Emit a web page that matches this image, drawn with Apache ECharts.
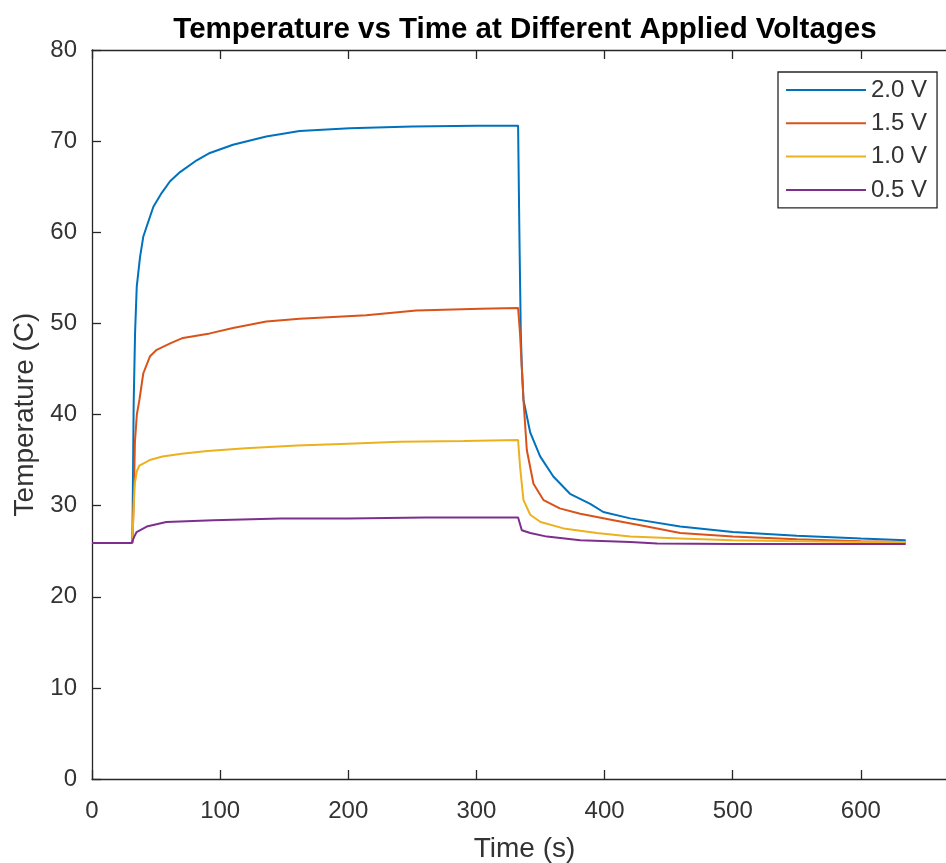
<!DOCTYPE html>
<html>
<head>
<meta charset="utf-8">
<title>Temperature vs Time</title>
<script src="https://cdn.jsdelivr.net/npm/echarts@6/dist/echarts.min.js"></script>
<style>
	html, body { margin: 0; padding: 0; background: #fff; }
	#main { width: 946px; height: 863px; }
</style>
</head>
<body>
<div id="main"></div>
<script>
// time (s) and temperature (C) per voltage
var seriesNames = ["2.0 V", "1.5 V", "1.0 V", "0.5 V"];
var seriesColors = ["#0072BD", "#D95319", "#EDB120", "#7E2F8E"];

var time20 = [0, 31.5, 32.5, 33.6, 34.9, 37.5, 40, 42.6, 47.9, 54.3, 60.9, 68.7, 81.7, 92, 110, 136, 162, 201, 250, 300, 332.5,
	333.5, 334.6, 335.4, 336.7, 342, 349.7, 360, 373, 388.8, 399, 420, 459, 500, 550, 600, 635];
var temp20 = [25.9, 25.9, 41, 48.9, 54, 57.3, 59.5, 60.6, 62.8, 64.3, 65.6, 66.6, 67.9, 68.7, 69.6, 70.5, 71.1, 71.4, 71.6, 71.7, 71.7,
	60, 49, 45.3, 41.6, 38, 35.4, 33.2, 31.3, 30.2, 29.3, 28.6, 27.7, 27.1, 26.7, 26.4, 26.2];

var time15 = [0, 31.5, 32.5, 33.5, 35, 37, 40, 45.3, 50.5, 61, 71, 92, 110, 136, 162, 214, 253, 303, 332.5,
	334, 336.7, 339.3, 344.5, 352.4, 365, 381, 407, 433, 459, 500, 550, 600, 635];
var temp15 = [25.9, 25.9, 30, 37, 40, 41.6, 44.5, 46.4, 47.1, 47.8, 48.4, 48.9, 49.5, 50.2, 50.5, 50.9, 51.4, 51.6, 51.7,
	48.9, 41.6, 36.1, 32.4, 30.6, 29.7, 29.1, 28.4, 27.7, 27.0, 26.6, 26.3, 26.1, 26.0];

var time10 = [0, 31.5, 32.5, 33.5, 35, 37, 45, 55, 70, 90, 120, 160, 200, 240, 290, 332.5,
	334, 336.7, 342, 350, 368, 394, 420, 459, 500, 550, 600, 635];
var temp10 = [25.9, 25.9, 30, 32.5, 33.8, 34.4, 35.0, 35.4, 35.7, 36.0, 36.3, 36.6, 36.8, 37.0, 37.1, 37.2,
	34.3, 30.6, 29.0, 28.2, 27.5, 27.0, 26.6, 26.4, 26.2, 26.1, 26.0, 26.0];

var time05 = [0, 31, 33, 34.8, 42.7, 58, 94.7, 146.8, 200, 260, 332.5, 335.4, 342, 355, 381, 420, 441, 500, 560, 635];
var temp05 = [25.9, 25.9, 26.6, 27.1, 27.7, 28.2, 28.4, 28.6, 28.6, 28.7, 28.7, 27.3, 27.0, 26.6, 26.2, 26.0, 25.85, 25.8, 25.8, 25.8];

var xTicks = [0, 100, 200, 300, 400, 500, 600];
var yTicks = [0, 10, 20, 30, 40, 50, 60, 70, 80];

var fontName = "Liberation Sans";
var axisColor = "#262626";
var textColor = "#333333";

function pairs(ts, vs)
{
	var re = [];
	for(var i=0; i<ts.length; i++)
		re.push([ts[i], vs[i]]);
	return re;
}

var dataList = [pairs(time20, temp20), pairs(time15, temp15), pairs(time10, temp10), pairs(time05, temp05)];

var series = [];
for(var i=0; i<seriesNames.length; i++)
{
	series.push({
		name: seriesNames[i],
		type: "line",
		data: dataList[i],
		symbol: "none",
		showSymbol: false,
		color: seriesColors[i],
		lineStyle: { width: 2, color: seriesColors[i] },
		xAxisIndex: 0,
		yAxisIndex: 0
	});
}

var chart = echarts.init(document.getElementById("main"), null, { renderer: "canvas" });

var tickStyle = { color: axisColor, width: 1.3 };

chart.setOption({
	animation: false,
	backgroundColor: "#ffffff",
	textStyle: { fontFamily: fontName },
	title: {
		text: "Temperature vs Time at Different Applied Voltages",
		left: 520,
		top: 10,
		textAlign: "center",
		textStyle: { fontFamily: fontName, fontSize: 29.5, fontWeight: "bold", color: "#000" }
	},
	// the axes box runs past the right edge of the picture (x = 675 s sits at about 957 px)
	grid: { left: 92, width: 865, top: 50, height: 729, containLabel: false, outerBoundsMode: "none" },
	legend: {
		orient: "vertical",
		left: 778,
		top: 72,
		icon: "rect",
		itemWidth: 80,
		itemHeight: 2,
		itemGap: 9.3,
		padding: [6, 10, 6, 8],
		borderColor: axisColor,
		borderWidth: 1.3,
		backgroundColor: "#fff",
		textStyle: { fontFamily: fontName, fontSize: 24, lineHeight: 24, color: textColor },
		data: seriesNames
	},
	xAxis: [
		{
			type: "value",
			position: "bottom",
			min: 0,
			max: 675,
			interval: 100,
			name: "Time (s)",
			nameLocation: "middle",
			nameGap: 56,
			nameTextStyle: { fontFamily: fontName, fontSize: 28, color: textColor },
			axisLine: { show: true, lineStyle: tickStyle },
			axisTick: { show: true, inside: true, length: 9, lineStyle: tickStyle },
			axisLabel: {
				fontFamily: fontName, fontSize: 24, color: textColor, margin: 20,
				formatter: function(v) { return xTicks.indexOf(v) >= 0 ? String(v) : ""; }
			},
			splitLine: { show: false }
		},
		{
			type: "value",
			position: "top",
			min: 0,
			max: 675,
			interval: 100,
			axisLine: { show: true, lineStyle: tickStyle },
			axisTick: { show: true, inside: true, length: 9, lineStyle: tickStyle },
			axisLabel: { show: false },
			splitLine: { show: false }
		}
	],
	yAxis: {
		type: "value",
		min: 0,
		max: 80,
		interval: 10,
		name: "Temperature (C)",
		nameLocation: "middle",
		nameGap: 43,
		nameTextStyle: { fontFamily: fontName, fontSize: 28, color: textColor },
		axisLine: { show: true, lineStyle: tickStyle },
		axisTick: { show: true, inside: true, length: 9, lineStyle: tickStyle },
		axisLabel: {
			fontFamily: fontName, fontSize: 24, color: textColor, margin: 15,
			formatter: function(v) { return yTicks.indexOf(v) >= 0 ? String(v) : ""; }
		},
		splitLine: { show: false }
	},
	series: series
});
</script>
</body>
</html>
